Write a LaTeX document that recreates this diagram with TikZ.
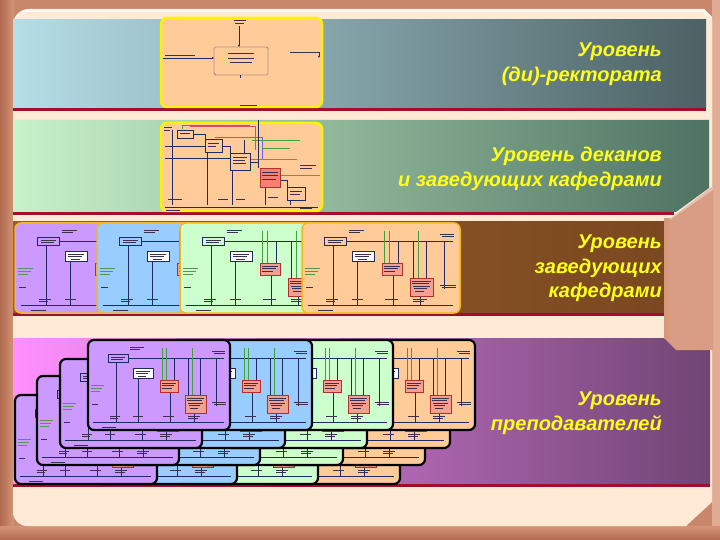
\documentclass[tikz,border=0pt]{standalone}
\usepackage{fontspec}
\setmainfont{Liberation Sans}
\usetikzlibrary{arrows.meta}
\definecolor{frame}{HTML}{C8876B}
\definecolor{frameA}{HTML}{B06A50}
\definecolor{frameB}{HTML}{D59478}
\definecolor{frameR}{HTML}{E0AC94}
\definecolor{cream}{HTML}{FFEAD6}
\definecolor{bAl}{HTML}{B5DEE6}
\definecolor{bAm}{HTML}{A2C7CC}
\definecolor{bAr}{HTML}{4C6163}
\definecolor{bBl}{HTML}{C8F2CA}
\definecolor{bBm}{HTML}{8FBFA0}
\definecolor{bBr}{HTML}{4E7262}
\definecolor{bCl}{HTML}{9A5E2A}
\definecolor{bCr}{HTML}{7A4820}
\definecolor{bDl}{HTML}{FF90FF}
\definecolor{bDm}{HTML}{A86CB0}
\definecolor{bDr}{HTML}{704574}
\definecolor{redline}{HTML}{A0102C}
\definecolor{lvlyellow}{HTML}{FFFF1A}
\definecolor{peach}{HTML}{FFCC99}
\definecolor{lav}{HTML}{CC99FF}
\definecolor{sky}{HTML}{99CCFF}
\definecolor{mint}{HTML}{CCFFCC}
\definecolor{lineblue}{HTML}{1F2A60}
\definecolor{squig}{HTML}{3A3050}
\definecolor{greenln}{HTML}{40A040}
\definecolor{pinkbox}{HTML}{F4A090}
\definecolor{pinkdark}{HTML}{B03030}
\definecolor{ybord}{HTML}{FFF200}
\definecolor{obord}{HTML}{F5B820}
\definecolor{stepc}{HTML}{D99C84}
\tikzset{
 dl/.style={draw=lineblue, line width=0.35pt},
 sq/.style={draw=squig, line width=0.6pt},
 pk/.style={draw=pinkdark, fill=pinkbox, line width=0.5pt},
 wb/.style={draw=lineblue, fill=white, line width=0.5pt},
 gl/.style={draw=greenln, line width=0.35pt},
 lvl/.style={anchor=east, align=right, inner sep=0pt, text=lvlyellow,
   font=\fontsize{20}{24.5}\selectfont\bfseries\itshape},
}
\newcommand\minidiag[7]{%
 \begin{scope}[shift={(#1,#2)}, xscale={#3/142}, yscale={#4/90}]
  \draw[rounded corners=6pt, fill=#5, draw=#6, line width=#7] (0,0) rectangle (142,90);
  \draw[dl] (20,14) rectangle (40,22);
  \draw[sq] (23,17)--(37,17) (23,19.5)--(35,19.5);
  \draw[sq] (42,7)--(56,7) (42,9.5)--(52,9.5);
  \draw[dl] (40,18)--(136,18);
  \draw[sq] (124,11)--(137,11) (126,13.5)--(137,13.5);
  \draw[dl] (28,22)--(28,82) (50,38)--(50,82) (82,52)--(82,82) (106,73)--(106,82) (128,18)--(128,66);
  \draw[gl] (74,8)--(74,40) (78,8)--(78,40) (104,8)--(104,55);
  \draw[dl] (86,18)--(86,40) (100,18)--(100,55) (112,18)--(112,55);
  \draw[wb] (45,28) rectangle (65,38);
  \draw[sq] (48,31)--(62,31) (48,33.5)--(60,33.5) (50,36)--(58,36);
  \draw[pk] (72,40) rectangle (90,52);
  \draw[sq] (74,43)--(88,43) (74,45.5)--(86,45.5) (74,48)--(84,48);
  \draw[pk] (97,55) rectangle (118,73);
  \draw[sq] (99,58)--(116,58) (99,60.5)--(114,60.5) (100,63)--(115,63) (101,65.5)--(112,65.5) (102,68)--(110,68);
  \draw[dl] (5,82)--(136,82);
  \draw[draw=greenln!60!gray, line width=0.5pt] (3,45)--(16,45) (3,48)--(14,48) (3,51)--(12,51);
  \draw[sq] (4,64)--(10,64);
  \draw[sq] (22,76)--(32,76) (22,78.5)--(30,78.5) (45,76)--(55,76) (75,76)--(86,76) (100,76)--(112,76) (100,78.5)--(110,78.5);
  \draw[sq] (14,87)--(28,87);
  \draw[sq] (124,62)--(138,62) (126,64.5)--(138,64.5);
 \end{scope}}
\begin{document}
\begin{tikzpicture}[x=1pt,y=-1pt]
\useasboundingbox (0,0) rectangle (720,540);
% frame
\fill[frame] (0,0) rectangle (720,540);
\shade[left color=frameA, right color=frameB] (0,0) rectangle (14,540);
\fill[frameR] (712,0) rectangle (720,540);
\shade[top color=frameB, bottom color=frameA] (0,526) rectangle (720,540);
% cream panel
\fill[white!60!cream] (13,100) [rounded corners=16pt] -- (13,9) -- (300,9) [sharp corners] -- (704,9) -- (712,17) -- (712,300) -- (13,300) -- cycle;
\fill[cream] (13,100) [rounded corners=16pt] -- (13,12) -- (300,12) [sharp corners] -- (703,12) -- (712,20) -- (712,502) -- (686,526) [rounded corners=14pt] -- (13,526) -- (13,400) [sharp corners] -- cycle;
% band 1
\shade[left color=bAl, middle color=bAm, right color=bAr] (13,20) rectangle (706,108);
\fill[redline] (13,108) rectangle (706,111);
% band 2
\shade[left color=bBl, middle color=bBm, right color=bBr] (13,120) -- (709,120) -- (709,188) -- (676,212) -- (13,212) -- cycle;
\fill[redline] (13,212) rectangle (674,215);
% band 3
\shade[left color=bCl, right color=bCr] (13,222) rectangle (664,313);
\fill[redline] (13,313) rectangle (664,316);
% band 4
\shade[left color=bDl, middle color=bDm, right color=bDr] (13,338) rectangle (710,484);
\fill[redline] (13,484) rectangle (710,487);
% 3D step on the right
\fill[stepc] (713,186) -- (670,219) -- (664,219) -- (664,338) -- (676,350) -- (713,350) -- cycle;
\fill[white, opacity=0.35] (713,186) -- (670,219) -- (664,219) -- (667,222) -- (713,190) -- cycle;
\shade[left color=stepc!80!brown, right color=stepc] (664,219) rectangle (670,338);

% band 1 thumbnail
\draw[draw=ybord, line width=2.5pt, fill=peach, rounded corners=6pt] (161,18) rectangle (322,107);
\draw[dl, fill=peach, rounded corners=1.5pt] (214,47) rectangle (268,75);
\draw[draw=squig, line width=1pt] (228,54)--(254,54) (228,58.5)--(254,58.5) (230,63)--(252,63);
\draw[dl, -{Latex[length=2pt,width=2pt]}] (239,26) -- (239,47);
\draw[sq] (234,20)--(246,20) (235,23)--(244,23);
\draw[dl, -{Latex[length=2pt,width=2pt]}] (163,58) -- (214,58);
\draw[sq] (165,55)--(195,55);
\draw[sq] (290,52)--(320,52);
\draw[dl, -{Latex[length=2pt,width=2pt]}] (319,53) -- (319,58);
\draw[dl] (240,75) -- (240,78);
\draw[draw=squig, line width=0.9pt] (240,105.5)--(257,105.5);

% band 2 thumbnail
\draw[draw=ybord, line width=2.5pt, fill=peach, rounded corners=6pt] (161,123) rectangle (322,211);
\draw[draw=purple!70, line width=0.5pt] (190,126)--(255,126)--(255,150);
\draw[draw=blue!60, line width=0.5pt] (215,137)--(262,137)--(262,160);
\draw[gl] (182,129)--(182,125)--(250,125) (252,140)--(300,140) (262,148)--(290,148);
\draw[draw=red!70, line width=0.6pt] (250,159)--(297,159);
\draw[draw=red!70, line width=0.6pt] (280,175)--(320,175);
\draw[dl] (172,130)--(172,205) (207,152)--(207,205) (232,170)--(232,205) (244,140)--(244,153) (265,187)--(265,205) (290,200)--(290,205) (258,120)--(258,168);
\draw[dl] (193,134)--(205,134)--(205,139) (222,146)--(230,146)--(230,153) (250,162)--(258,162) (280,180)--(287,180)--(287,187);
\draw[dl] (165,207)--(318,207);
\draw[dl] (165,158)--(230,158) (165,146)--(205,146);
\draw[dl, fill=peach] (177,130) rectangle (193,138);
\draw[dl, fill=peach] (205,139) rectangle (222,152);
\draw[dl, fill=peach] (230,153) rectangle (250,170);
\draw[pk, fill=pinkbox!80!red] (260,168) rectangle (280,187);
\draw[dl, fill=peach] (287,187) rectangle (305,200);
\draw[sq] (180,133)--(190,133) (208,143)--(219,143) (208,146)--(216,146) (233,157)--(247,157) (233,160)--(245,160) (233,163)--(246,163);
\draw[draw=squig, line width=0.8pt] (262,172)--(278,172) (262,175.5)--(278,175.5) (262,179)--(276,179);
\draw[sq] (290,191)--(302,191) (290,194)--(300,194);
\draw[sq] (164,127)--(172,127) (164,130)--(170,130) (300,165)--(316,165) (300,168)--(312,168);
\draw[sq] (168,199)--(182,199) (218,199)--(228,199) (236,199)--(245,199) (268,197)--(278,197) (300,208)--(312,208) (166,210)--(180,210);

% band 3 thumbnails
\minidiag{15}{223}{158}{90}{lav}{obord}{1.5pt}
\minidiag{97}{223}{158}{90}{sky}{obord}{1.5pt}
\minidiag{180}{223}{158}{90}{mint}{obord}{1.5pt}
\minidiag{302}{223}{158}{90}{peach}{obord}{1.5pt}

% band 4 thumbnails (back to front)
\minidiag{258}{395}{142}{89}{peach}{black}{2.2pt}
\minidiag{176}{395}{142}{89}{mint}{black}{2.2pt}
\minidiag{95}{395}{142}{89}{sky}{black}{2.2pt}
\minidiag{15}{395}{142}{89}{lav}{black}{2.2pt}
\minidiag{283}{376}{142}{89}{peach}{black}{2.2pt}
\minidiag{201}{376}{142}{89}{mint}{black}{2.2pt}
\minidiag{118}{376}{142}{89}{sky}{black}{2.2pt}
\minidiag{37}{376}{142}{89}{lav}{black}{2.2pt}
\minidiag{308}{359}{142}{89}{peach}{black}{2.2pt}
\minidiag{225}{359}{142}{89}{mint}{black}{2.2pt}
\minidiag{143}{359}{142}{89}{sky}{black}{2.2pt}
\minidiag{60}{359}{142}{89}{lav}{black}{2.2pt}
\minidiag{333}{340}{142}{90}{peach}{black}{2.2pt}
\minidiag{251}{340}{142}{90}{mint}{black}{2.2pt}
\minidiag{170}{340}{142}{90}{sky}{black}{2.2pt}
\minidiag{88}{340}{142}{90}{lav}{black}{2.2pt}

% level labels
\node[lvl] (t1) at (662,64) {Уровень\\(ди)-ректората};
\node[lvl] (t2) at (662,169) {Уровень деканов\\и заведующих кафедрами};
\node[lvl] (t3) at (662,268.5) {Уровень\\заведующих\\кафедрами};
\node[lvl] (t4) at (662,413) {Уровень\\преподавателей};
\end{tikzpicture}
\end{document}
